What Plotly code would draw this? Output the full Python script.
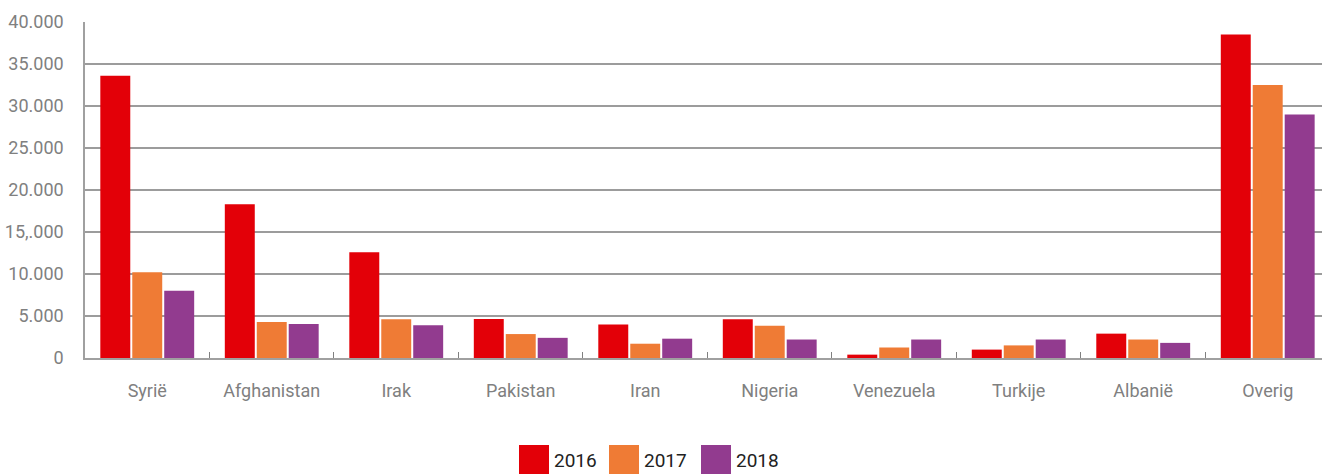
import plotly.graph_objects as go

categories = ["Syrië", "Afghanistan", "Irak", "Pakistan", "Iran", "Nigeria", "Venezuela", "Turkije", "Albanië", "Overig"]
v2016 = [33600, 18300, 12600, 4650, 4000, 4600, 400, 1000, 2900, 38500]
v2017 = [10200, 4300, 4600, 2850, 1700, 3850, 1250, 1500, 2200, 32500]
v2018 = [8000, 4050, 3900, 2400, 2300, 2200, 2200, 2200, 1800, 29000]
series_names = ["2016", "2017", "2018"]
colors = ["#e30008", "#ef7b35", "#923b8f"]
ytick_vals = [0, 5000, 10000, 15000, 20000, 25000, 30000, 35000, 40000]
ytick_text = ["0", "5.000", "10.000", "15,.000", "20.000", "25.000", "30.000", "35.000", "40.000"]

W, H = 1322, 474
ML, MR, MT, MB = 85, 0, 22, 116
PW, PH = W - ML - MR, H - MT - MB

fig = go.Figure()
for name, vals, col in zip(series_names, [v2016, v2017, v2018], colors):
    fig.add_trace(go.Bar(x=categories, y=vals, name=name, marker=dict(color=col, line=dict(width=0)),
                         showlegend=False))

# custom legend with large square swatches
def px_x(p):
    return (p - ML) / PW

def px_y(p):
    return (H - MB - p) / PH

legend_x = [519, 609, 701]
for i, (name, col) in enumerate(zip(series_names, colors)):
    x0 = legend_x[i]
    fig.add_shape(type="rect", xref="paper", yref="paper",
                  x0=px_x(x0), x1=px_x(x0 + 30), y0=px_y(476), y1=px_y(445),
                  fillcolor=col, line=dict(width=0), layer="above")
    fig.add_annotation(xref="paper", yref="paper", x=px_x(x0 + 33), y=px_y(447),
                       xanchor="left", yanchor="top", text=name, showarrow=False,
                       font=dict(size=19, color="#222222", family="Roboto"))

fig.update_layout(
    width=W, height=H,
    margin=dict(l=ML, r=MR, t=MT, b=MB, autoexpand=False),
    plot_bgcolor="white", paper_bgcolor="white",
    barmode="group", bargap=0.23, bargroupgap=0.0625,
    font=dict(family="Roboto", color="#808080"),
    showlegend=False,
)
fig.update_xaxes(
    automargin=False, range=[-0.5, 9.436],
    showline=True, linecolor="#a0a0a0", linewidth=2,
    ticks="inside", tickson="boundaries", ticklen=6, tickcolor="#808080",
    tickfont=dict(size=18, color="#808080"), ticklabelstandoff=15,
)
fig.update_yaxes(
    automargin=False,
    range=[0, 40000], tickvals=ytick_vals, ticktext=ytick_text,
    showgrid=True, gridcolor="#9c9c9c", gridwidth=1.5,
    showline=True, linecolor="#a0a0a0", linewidth=1.5,
    tickfont=dict(size=18, color="#808080"), ticklabelstandoff=16,
    zeroline=False,
)
fig.write_html("out.html", config={"displayModeBar": False},
               post_script="document.body.style.margin='0';document.body.style.overflow='hidden';")
